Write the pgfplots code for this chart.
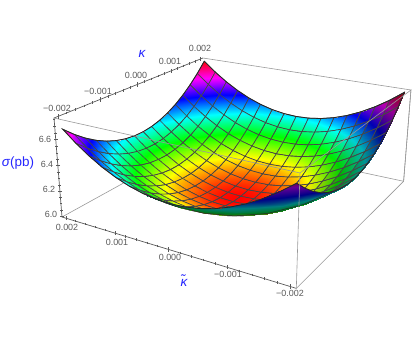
\documentclass[border=0pt]{standalone}
\usepackage{pgfplots}
\usepackage{pgfplotstable}
\usepackage{fontspec}
\setmainfont{Liberation Sans}
\pgfplotsset{compat=1.18}
\definecolor{axgray}{gray}{0.35}
\definecolor{boxgray}{gray}{0.6}
\definecolor{lab}{rgb}{0.15,0.15,1}
\pgfplotsset{colormap={hue}{rgb255=(255,0,0) rgb255=(255,255,0) rgb255=(0,255,0) rgb255=(0,255,255) rgb255=(0,0,255) rgb255=(255,0,255) rgb255=(255,0,0)}}
\pgfplotsset{colormap={hueA}{rgb255=(235,0,0) rgb255=(235,235,0) rgb255=(0,235,0) rgb255=(0,235,235) rgb255=(0,0,235) rgb255=(235,0,235) rgb255=(235,0,0)}}
\pgfplotsset{colormap={hueB}{rgb255=(209,0,0) rgb255=(209,209,0) rgb255=(0,209,0) rgb255=(0,209,209) rgb255=(0,0,209) rgb255=(209,0,209) rgb255=(209,0,0)}}
\pgfplotsset{colormap={hueC}{rgb255=(179,0,0) rgb255=(179,179,0) rgb255=(0,179,0) rgb255=(0,179,179) rgb255=(0,0,179) rgb255=(179,0,179) rgb255=(179,0,0)}}
\pgfplotsset{colormap={hueD}{rgb255=(148,0,0) rgb255=(148,148,0) rgb255=(0,148,0) rgb255=(0,148,148) rgb255=(0,0,148) rgb255=(148,0,148) rgb255=(148,0,0)}}
\pgfplotsset{colormap={darkhue}{rgb255=(128,0,0) rgb255=(128,128,0) rgb255=(0,120,30) rgb255=(0,125,125) rgb255=(0,0,135) rgb255=(100,0,150) rgb255=(128,0,0)}}
\def\UU{(0.5-240*\thisrow{kt})}
\def\VV{(0.5+240*\thisrow{k})}
\def\WW{((\thisrow{sig}-5.992)/0.77)}
\def\DD{(1-0.1637*\UU+0.2618*\VV-0.045*\WW)}
\def\PX{(185.8*\UU+195.4*\VV-10.43*\WW+62)/\DD}
\def\PY{-(24.16*\UU-42.1*\VV-104.3*\WW+217)/\DD}
\pgfplotsset{table/proj/.style={x expr=\PX,y expr=\PY,z expr=0}}
\pgfplotstableread{
kt k sig
0.002 0.002 6.7466
0.00175 0.002 6.6627
0.0015 0.002 6.5900
0.00125 0.002 6.5284
0.001 0.002 6.4781
0.00075 0.002 6.4389
0.0005 0.002 6.4110
0.00025 0.002 6.3942
0 0.002 6.3886
-0.00025 0.002 6.3942
-0.0005 0.002 6.4110
-0.00075 0.002 6.4389
-0.001 0.002 6.4781
-0.00125 0.002 6.5284
-0.0015 0.002 6.5900
-0.00175 0.002 6.6627
-0.002 0.002 6.7466
0.002 0.00175 6.6616
0.00175 0.00175 6.5777
0.0015 0.00175 6.5050
0.00125 0.00175 6.4434
0.001 0.00175 6.3931
0.00075 0.00175 6.3539
0.0005 0.00175 6.3260
0.00025 0.00175 6.3092
0 0.00175 6.3036
-0.00025 0.00175 6.3092
-0.0005 0.00175 6.3260
-0.00075 0.00175 6.3539
-0.001 0.00175 6.3931
-0.00125 0.00175 6.4434
-0.0015 0.00175 6.5050
-0.00175 0.00175 6.5777
-0.002 0.00175 6.6616
0.002 0.0015 6.5874
0.00175 0.0015 6.5035
0.0015 0.0015 6.4308
0.00125 0.0015 6.3692
0.001 0.0015 6.3189
0.00075 0.0015 6.2797
0.0005 0.0015 6.2518
0.00025 0.0015 6.2350
0 0.0015 6.2294
-0.00025 0.0015 6.2350
-0.0005 0.0015 6.2518
-0.00075 0.0015 6.2797
-0.001 0.0015 6.3189
-0.00125 0.0015 6.3692
-0.0015 0.0015 6.4308
-0.00175 0.0015 6.5035
-0.002 0.0015 6.5874
0.002 0.00125 6.5239
0.00175 0.00125 6.4400
0.0015 0.00125 6.3673
0.00125 0.00125 6.3057
0.001 0.00125 6.2554
0.00075 0.00125 6.2162
0.0005 0.00125 6.1883
0.00025 0.00125 6.1715
0 0.00125 6.1659
-0.00025 0.00125 6.1715
-0.0005 0.00125 6.1883
-0.00075 0.00125 6.2162
-0.001 0.00125 6.2554
-0.00125 0.00125 6.3057
-0.0015 0.00125 6.3673
-0.00175 0.00125 6.4400
-0.002 0.00125 6.5239
0.002 0.001 6.4711
0.00175 0.001 6.3872
0.0015 0.001 6.3145
0.00125 0.001 6.2529
0.001 0.001 6.2026
0.00075 0.001 6.1634
0.0005 0.001 6.1355
0.00025 0.001 6.1187
0 0.001 6.1131
-0.00025 0.001 6.1187
-0.0005 0.001 6.1355
-0.00075 0.001 6.1634
-0.001 0.001 6.2026
-0.00125 0.001 6.2529
-0.0015 0.001 6.3145
-0.00175 0.001 6.3872
-0.002 0.001 6.4711
0.002 0.00075 6.4289
0.00175 0.00075 6.3450
0.0015 0.00075 6.2723
0.00125 0.00075 6.2107
0.001 0.00075 6.1604
0.00075 0.00075 6.1212
0.0005 0.00075 6.0933
0.00025 0.00075 6.0765
0 0.00075 6.0709
-0.00025 0.00075 6.0765
-0.0005 0.00075 6.0933
-0.00075 0.00075 6.1212
-0.001 0.00075 6.1604
-0.00125 0.00075 6.2107
-0.0015 0.00075 6.2723
-0.00175 0.00075 6.3450
-0.002 0.00075 6.4289
0.002 0.0005 6.3976
0.00175 0.0005 6.3137
0.0015 0.0005 6.2410
0.00125 0.0005 6.1794
0.001 0.0005 6.1291
0.00075 0.0005 6.0899
0.0005 0.0005 6.0620
0.00025 0.0005 6.0452
0 0.0005 6.0396
-0.00025 0.0005 6.0452
-0.0005 0.0005 6.0620
-0.00075 0.0005 6.0899
-0.001 0.0005 6.1291
-0.00125 0.0005 6.1794
-0.0015 0.0005 6.2410
-0.00175 0.0005 6.3137
-0.002 0.0005 6.3976
0.002 0.00025 6.3769
0.00175 0.00025 6.2930
0.0015 0.00025 6.2203
0.00125 0.00025 6.1587
0.001 0.00025 6.1084
0.00075 0.00025 6.0692
0.0005 0.00025 6.0413
0.00025 0.00025 6.0245
0 0.00025 6.0189
-0.00025 0.00025 6.0245
-0.0005 0.00025 6.0413
-0.00075 0.00025 6.0692
-0.001 0.00025 6.1084
-0.00125 0.00025 6.1587
-0.0015 0.00025 6.2203
-0.00175 0.00025 6.2930
-0.002 0.00025 6.3769
0.002 0 6.3670
0.00175 0 6.2831
0.0015 0 6.2104
0.00125 0 6.1488
0.001 0 6.0985
0.00075 0 6.0593
0.0005 0 6.0314
0.00025 0 6.0146
0 0 6.0090
-0.00025 0 6.0146
-0.0005 0 6.0314
-0.00075 0 6.0593
-0.001 0 6.0985
-0.00125 0 6.1488
-0.0015 0 6.2104
-0.00175 0 6.2831
-0.002 0 6.3670
0.002 -0.00025 6.3678
0.00175 -0.00025 6.2839
0.0015 -0.00025 6.2112
0.00125 -0.00025 6.1496
0.001 -0.00025 6.0993
0.00075 -0.00025 6.0601
0.0005 -0.00025 6.0322
0.00025 -0.00025 6.0154
0 -0.00025 6.0098
-0.00025 -0.00025 6.0154
-0.0005 -0.00025 6.0322
-0.00075 -0.00025 6.0601
-0.001 -0.00025 6.0993
-0.00125 -0.00025 6.1496
-0.0015 -0.00025 6.2112
-0.00175 -0.00025 6.2839
-0.002 -0.00025 6.3678
0.002 -0.0005 6.3793
0.00175 -0.0005 6.2954
0.0015 -0.0005 6.2227
0.00125 -0.0005 6.1611
0.001 -0.0005 6.1108
0.00075 -0.0005 6.0716
0.0005 -0.0005 6.0437
0.00025 -0.0005 6.0269
0 -0.0005 6.0213
-0.00025 -0.0005 6.0269
-0.0005 -0.0005 6.0437
-0.00075 -0.0005 6.0716
-0.001 -0.0005 6.1108
-0.00125 -0.0005 6.1611
-0.0015 -0.0005 6.2227
-0.00175 -0.0005 6.2954
-0.002 -0.0005 6.3793
0.002 -0.00075 6.4015
0.00175 -0.00075 6.3176
0.0015 -0.00075 6.2449
0.00125 -0.00075 6.1833
0.001 -0.00075 6.1330
0.00075 -0.00075 6.0938
0.0005 -0.00075 6.0659
0.00025 -0.00075 6.0491
0 -0.00075 6.0435
-0.00025 -0.00075 6.0491
-0.0005 -0.00075 6.0659
-0.00075 -0.00075 6.0938
-0.001 -0.00075 6.1330
-0.00125 -0.00075 6.1833
-0.0015 -0.00075 6.2449
-0.00175 -0.00075 6.3176
-0.002 -0.00075 6.4015
0.002 -0.001 6.4345
0.00175 -0.001 6.3506
0.0015 -0.001 6.2779
0.00125 -0.001 6.2163
0.001 -0.001 6.1660
0.00075 -0.001 6.1268
0.0005 -0.001 6.0989
0.00025 -0.001 6.0821
0 -0.001 6.0765
-0.00025 -0.001 6.0821
-0.0005 -0.001 6.0989
-0.00075 -0.001 6.1268
-0.001 -0.001 6.1660
-0.00125 -0.001 6.2163
-0.0015 -0.001 6.2779
-0.00175 -0.001 6.3506
-0.002 -0.001 6.4345
0.002 -0.00125 6.4781
0.00175 -0.00125 6.3942
0.0015 -0.00125 6.3215
0.00125 -0.00125 6.2599
0.001 -0.00125 6.2096
0.00075 -0.00125 6.1704
0.0005 -0.00125 6.1425
0.00025 -0.00125 6.1257
0 -0.00125 6.1201
-0.00025 -0.00125 6.1257
-0.0005 -0.00125 6.1425
-0.00075 -0.00125 6.1704
-0.001 -0.00125 6.2096
-0.00125 -0.00125 6.2599
-0.0015 -0.00125 6.3215
-0.00175 -0.00125 6.3942
-0.002 -0.00125 6.4781
0.002 -0.0015 6.5325
0.00175 -0.0015 6.4486
0.0015 -0.0015 6.3759
0.00125 -0.0015 6.3143
0.001 -0.0015 6.2640
0.00075 -0.0015 6.2248
0.0005 -0.0015 6.1969
0.00025 -0.0015 6.1801
0 -0.0015 6.1745
-0.00025 -0.0015 6.1801
-0.0005 -0.0015 6.1969
-0.00075 -0.0015 6.2248
-0.001 -0.0015 6.2640
-0.00125 -0.0015 6.3143
-0.0015 -0.0015 6.3759
-0.00175 -0.0015 6.4486
-0.002 -0.0015 6.5325
0.002 -0.00175 6.5976
0.00175 -0.00175 6.5137
0.0015 -0.00175 6.4410
0.00125 -0.00175 6.3794
0.001 -0.00175 6.3291
0.00075 -0.00175 6.2899
0.0005 -0.00175 6.2620
0.00025 -0.00175 6.2452
0 -0.00175 6.2396
-0.00025 -0.00175 6.2452
-0.0005 -0.00175 6.2620
-0.00075 -0.00175 6.2899
-0.001 -0.00175 6.3291
-0.00125 -0.00175 6.3794
-0.0015 -0.00175 6.4410
-0.00175 -0.00175 6.5137
-0.002 -0.00175 6.5976
0.002 -0.002 6.6734
0.00175 -0.002 6.5895
0.0015 -0.002 6.5168
0.00125 -0.002 6.4552
0.001 -0.002 6.4049
0.00075 -0.002 6.3657
0.0005 -0.002 6.3378
0.00025 -0.002 6.3210
0 -0.002 6.3154
-0.00025 -0.002 6.3210
-0.0005 -0.002 6.3378
-0.00075 -0.002 6.3657
-0.001 -0.002 6.4049
-0.00125 -0.002 6.4552
-0.0015 -0.002 6.5168
-0.00175 -0.002 6.5895
-0.002 -0.002 6.6734
}\maindata
% outside of the bowl, between the rim and the fold
\pgfplotstableread{
kt k sig
-0.002 -0.00052 6.3807
-0.002 -0.00052 6.3807
-0.002 -0.00052 6.3807
-0.002 -0.00052 6.3807
-0.002 -0.00052 6.3807
-0.002 -0.00075 6.4015
-0.00188 -0.00075 6.3598
-0.001758 -0.00075 6.3201
-0.001638 -0.00075 6.2836
-0.001516 -0.00075 6.2492
-0.002 -0.001 6.4345
-0.00176 -0.001 6.3537
-0.001522 -0.001 6.2838
-0.001282 -0.001 6.2236
-0.001044 -0.001 6.1741
-0.002 -0.00125 6.4781
-0.001655 -0.00125 6.3653
-0.00131 -0.00125 6.2737
-0.000965 -0.00125 6.2034
-0.00062 -0.00125 6.1545
-0.002 -0.0015 6.5325
-0.00156 -0.0015 6.3923
-0.00112 -0.0015 6.2868
-0.000678 -0.0015 6.2156
-0.000238 -0.0015 6.1796
-0.002 -0.00175 6.5976
-0.001472 -0.00175 6.4335
-0.000944 -0.00175 6.3194
-0.000416 -0.00175 6.2551
0.000112 -0.00175 6.2407
-0.002 -0.002 6.6734
-0.001396 -0.002 6.4898
-0.000792 -0.002 6.3715
-0.000188 -0.002 6.3186
0.000416 -0.002 6.3309
}\wedgedata
\pgfplotstableread{
kt k sig
0.002 0.002 6.7466
0.00175 0.002 6.6627
0.0015 0.002 6.5900
0.00125 0.002 6.5284
0.001 0.002 6.4781
0.00075 0.002 6.4389
0.0005 0.002 6.4110
0.00025 0.002 6.3942
0 0.002 6.3886
-0.00025 0.002 6.3942
-0.0005 0.002 6.4110
-0.00075 0.002 6.4389
-0.001 0.002 6.4781
-0.00125 0.002 6.5284
-0.0015 0.002 6.5900
-0.00175 0.002 6.6627
-0.002 0.002 6.7466
-0.002 0.00175 6.6616
-0.002 0.0015 6.5874
-0.002 0.00125 6.5239
-0.002 0.001 6.4711
-0.002 0.00075 6.4289
-0.002 0.0005 6.3976
-0.002 0.00025 6.3769
-0.002 0 6.3670
-0.002 -0.00025 6.3678
-0.002 -0.0005 6.3793
-0.002 -0.00075 6.4015
-0.002 -0.001 6.4345
-0.002 -0.00125 6.4781
-0.002 -0.0015 6.5325
-0.002 -0.00175 6.5976
-0.002 -0.002 6.6734
-0.00175 -0.002 6.5895
-0.0015 -0.002 6.5168
-0.00125 -0.002 6.4552
-0.001 -0.002 6.4049
-0.00075 -0.002 6.3657
-0.0005 -0.002 6.3378
-0.00025 -0.002 6.3210
0 -0.002 6.3154
0.00025 -0.002 6.3210
0.0005 -0.002 6.3378
0.00075 -0.002 6.3657
0.001 -0.002 6.4049
0.00125 -0.002 6.4552
0.0015 -0.002 6.5168
0.00175 -0.002 6.5895
0.002 -0.002 6.6734
0.002 -0.00175 6.5976
0.002 -0.0015 6.5325
0.002 -0.00125 6.4781
0.002 -0.001 6.4345
0.002 -0.00075 6.4015
0.002 -0.0005 6.3793
0.002 -0.00025 6.3678
0.002 0 6.3670
0.002 0.00025 6.3769
0.002 0.0005 6.3976
0.002 0.00075 6.4289
0.002 0.001 6.4711
0.002 0.00125 6.5239
0.002 0.0015 6.5874
0.002 0.00175 6.6616
0.002 0.002 6.7466
}\rimdata
\pgfplotstableread{
kt k sig
0.000416 -0.002 6.3309
0.000112 -0.00175 6.2407
-0.000238 -0.0015 6.1796
-0.00062 -0.00125 6.1545
-0.001044 -0.001 6.1741
-0.001516 -0.00075 6.2492
-0.002 -0.00052 6.3807
}\folddata
\begin{document}
\begin{tikzpicture}
\begin{axis}[
  scale only axis, width=413bp, height=341bp,
  xmin=0, xmax=413, ymin=-341, ymax=0, zmin=-1, zmax=1,
  view={0}{90}, hide axis, clip=false,
  point meta min=6.009, point meta max=6.746,
]
\path (axis cs:0,0,0) rectangle (axis cs:413,-341,0);
% back of the box
\addplot3[boxgray, line width=0.6pt] table[proj, row sep=\\]{
kt k sig\\
0.0020833 0.0020833 6.762\\
-0.0020833 0.0020833 6.762\\
-0.0020833 0.0020833 5.992\\
-0.0020833 -0.0020833 5.992\\
};
\addplot3[boxgray, line width=0.6pt] table[proj, row sep=\\]{
kt k sig\\
0.0020833 -0.0020833 5.992\\
0.0020833 0.0020833 5.992\\
-0.0020833 0.0020833 5.992\\
};
% dark axes
\addplot3[axgray, line width=0.7pt] table[proj, row sep=\\]{
kt k sig\\
-0.0020833 -0.0020833 5.992\\
0.0020833 -0.0020833 5.992\\
0.0020833 -0.0020833 6.762\\
0.0020833 0.0020833 6.762\\
};
% ticks
\addplot3[only marks, mark=|, mark size=2.2, axgray, mark options={line width=0.5pt}] table[proj, row sep=\\]{
kt k sig\\
0.002 -0.0020833 5.992\\
0.001 -0.0020833 5.992\\
0 -0.0020833 5.992\\
-0.001 -0.0020833 5.992\\
-0.002 -0.0020833 5.992\\
};
\addplot3[only marks, mark=|, mark size=1.3, axgray, mark options={line width=0.4pt}] table[proj, row sep=\\]{
kt k sig\\
0.0018 -0.0020833 5.992\\
0.0016 -0.0020833 5.992\\
0.0014 -0.0020833 5.992\\
0.0012 -0.0020833 5.992\\
0.0008 -0.0020833 5.992\\
0.0006 -0.0020833 5.992\\
0.0004 -0.0020833 5.992\\
0.0002 -0.0020833 5.992\\
-0.0002 -0.0020833 5.992\\
-0.0004 -0.0020833 5.992\\
-0.0006 -0.0020833 5.992\\
-0.0008 -0.0020833 5.992\\
-0.0012 -0.0020833 5.992\\
-0.0014 -0.0020833 5.992\\
-0.0016 -0.0020833 5.992\\
-0.0018 -0.0020833 5.992\\
};
\addplot3[only marks, mark=|, mark size=2.2, axgray, mark options={line width=0.5pt}] table[proj, row sep=\\]{
kt k sig\\
0.0020833 -0.002 6.762\\
0.0020833 -0.001 6.762\\
0.0020833 0 6.762\\
0.0020833 0.001 6.762\\
0.0020833 0.002 6.762\\
};
\addplot3[only marks, mark=|, mark size=1.3, axgray, mark options={line width=0.4pt}] table[proj, row sep=\\]{
kt k sig\\
0.0020833 -0.0018 6.762\\
0.0020833 -0.0016 6.762\\
0.0020833 -0.0014 6.762\\
0.0020833 -0.0012 6.762\\
0.0020833 -0.0008 6.762\\
0.0020833 -0.0006 6.762\\
0.0020833 -0.0004 6.762\\
0.0020833 -0.0002 6.762\\
0.0020833 0.0002 6.762\\
0.0020833 0.0004 6.762\\
0.0020833 0.0006 6.762\\
0.0020833 0.0008 6.762\\
0.0020833 0.0012 6.762\\
0.0020833 0.0014 6.762\\
0.0020833 0.0016 6.762\\
0.0020833 0.0018 6.762\\
};
\addplot3[only marks, mark=-, mark size=2.2, axgray, mark options={line width=0.5pt}] table[proj, row sep=\\]{
kt k sig\\
0.0020833 -0.0020833 6.0\\
0.0020833 -0.0020833 6.2\\
0.0020833 -0.0020833 6.4\\
0.0020833 -0.0020833 6.6\\
};
\addplot3[only marks, mark=-, mark size=1.3, axgray, mark options={line width=0.4pt}] table[proj, row sep=\\]{
kt k sig\\
0.0020833 -0.0020833 6.05\\
0.0020833 -0.0020833 6.1\\
0.0020833 -0.0020833 6.15\\
0.0020833 -0.0020833 6.25\\
0.0020833 -0.0020833 6.3\\
0.0020833 -0.0020833 6.35\\
0.0020833 -0.0020833 6.45\\
0.0020833 -0.0020833 6.5\\
0.0020833 -0.0020833 6.55\\
0.0020833 -0.0020833 6.65\\
0.0020833 -0.0020833 6.7\\
0.0020833 -0.0020833 6.75\\
};
% the surface, far rows first
\addplot3[surf, colormap name=hue, shader=faceted interp, faceted color=black!72, line width=0.65pt,
  z buffer=none, mesh/rows=17, mesh/cols=17, mesh/ordering=x varies, point meta=\thisrow{sig}]
  table[proj]{\maindata};
% the side turned from the light: the last columns, darker
\addplot3[surf, colormap name=hueA, shader=faceted interp, faceted color=black!72, line width=0.65pt,
  z buffer=none, mesh/rows=17, mesh/cols=17, mesh/ordering=x varies, point meta=\thisrow{sig},
  unbounded coords=jump, restrict expr to domain={\thisrow{kt}}{-0.00126:-0.00099}]
  table[proj]{\maindata};
\addplot3[surf, colormap name=hueB, shader=faceted interp, faceted color=black!72, line width=0.65pt,
  z buffer=none, mesh/rows=17, mesh/cols=17, mesh/ordering=x varies, point meta=\thisrow{sig},
  unbounded coords=jump, restrict expr to domain={\thisrow{kt}}{-0.00151:-0.00124}]
  table[proj]{\maindata};
\addplot3[surf, colormap name=hueC, shader=faceted interp, faceted color=black!72, line width=0.65pt,
  z buffer=none, mesh/rows=17, mesh/cols=17, mesh/ordering=x varies, point meta=\thisrow{sig},
  unbounded coords=jump, restrict expr to domain={\thisrow{kt}}{-0.00176:-0.00149}]
  table[proj]{\maindata};
\addplot3[surf, colormap name=hueD, shader=faceted interp, faceted color=black!72, line width=0.65pt,
  z buffer=none, mesh/rows=17, mesh/cols=17, mesh/ordering=x varies, point meta=\thisrow{sig},
  unbounded coords=jump, restrict expr to domain={\thisrow{kt}}{-0.00201:-0.00174}]
  table[proj]{\maindata};
% outside of the bowl
\addplot3[surf, colormap name=darkhue, shader=interp,
  z buffer=none, mesh/rows=7, mesh/cols=5, mesh/ordering=x varies, point meta=\thisrow{sig}]
  table[proj]{\wedgedata};
\addplot3[black!85, line width=0.8pt] table[proj]{\rimdata};
\addplot3[black!85, line width=0.5pt] table[proj]{\folddata};
% front of the box
\addplot3[boxgray, line width=0.6pt] table[proj, row sep=\\]{
kt k sig\\
0.0020833 -0.0020833 6.762\\
-0.0020833 -0.0020833 6.762\\
-0.0020833 0.0020833 6.762\\
-0.0020833 0.0020833 5.992\\
};
\addplot3[boxgray, line width=0.6pt] table[proj, row sep=\\]{
kt k sig\\
-0.0020833 -0.0020833 6.762\\
-0.0020833 -0.0020833 5.992\\
};
% labels
\begin{scope}[every node/.style={font=\fontsize{9}{9}\selectfont, text=axgray, inner sep=0pt}]
\node at (axis cs:67,-227,0) {0.002};
\node at (axis cs:117,-242,0) {0.001};
\node at (axis cs:170,-257,0) {0.000};
\node at (axis cs:228,-274,0) {−0.001};
\node at (axis cs:290,-293,0) {−0.002};
\node at (axis cs:57,-108,0) {−0.002};
\node at (axis cs:98,-91,0) {−0.001};
\node at (axis cs:136,-75,0) {0.000};
\node at (axis cs:170,-61,0) {0.001};
\node at (axis cs:200,-48,0) {0.002};
\node at (axis cs:45,-139,0) {6.6};
\node at (axis cs:47,-164,0) {6.4};
\node at (axis cs:49,-189,0) {6.2};
\node at (axis cs:51,-214,0) {6.0};
\end{scope}
\begin{scope}[every node/.style={font=\fontsize{13.5}{14}\selectfont, text=lab, inner sep=0pt}]
\node at (axis cs:18,-163,0) {{\itshape σ}(pb)};
\node at (axis cs:142,-54,0) {\itshape κ};
\node at (axis cs:184,-281,0) {\itshape κ̃};
\end{scope}
\end{axis}
\end{tikzpicture}
\end{document}
